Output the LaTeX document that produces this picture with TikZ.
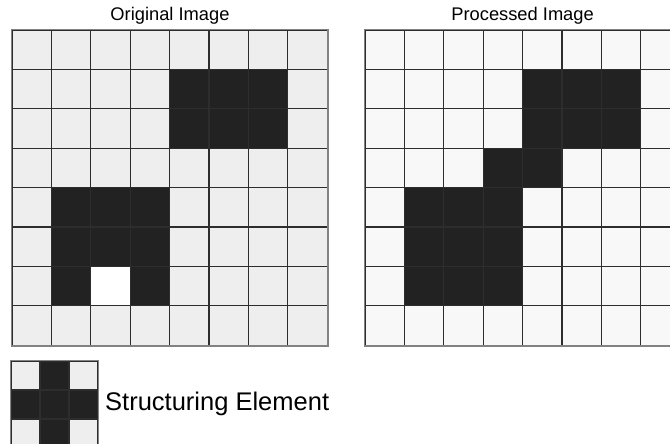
\documentclass[tikz,border=0pt]{standalone}
\usepackage{fontspec}
\setmainfont{Liberation Sans}
\usetikzlibrary{positioning}
\definecolor{origcol}{RGB}{238,238,238}
\definecolor{proccol}{RGB}{248,248,248}
\definecolor{inkcol}{RGB}{34,34,34}
\definecolor{linecol}{RGB}{45,45,45}
\definecolor{framecol}{RGB}{130,130,130}

\begin{document}
\begin{tikzpicture}[x=1pt,y=-1pt,
  cell/.style={draw=linecol,line width=1.3pt,minimum size=39.4pt,inner sep=0pt,anchor=center},
  secell/.style={draw=linecol,line width=1.3pt,minimum size=29pt,inner sep=0pt,anchor=center},
  title/.style={font=\fontsize{18.3}{22}\selectfont,text=black}]
  \clip (0,0) rectangle (670,444);
  \useasboundingbox (0,0) rectangle (670,444);
  \fill[white] (0,0) rectangle (670,444);
  \begin{scope}
    % original image, 8x8
    \foreach \c in {0,...,7}\foreach \r in {0,...,7}
       {\node[cell,fill=origcol] (o-\c-\r) at ({31.7+39.4*\c},{49.7+39.4*\r}) {};}
    \foreach \c/\r in {4/1,5/1,6/1,4/2,5/2,6/2,1/4,2/4,3/4,1/5,2/5,3/5,1/6,3/6}
       {\node[cell,fill=inkcol] (od-\c-\r) at (o-\c-\r) {};}
    \node[cell,fill=white] (oh-2-6) at (o-2-6) {};
    \draw[framecol,line width=1.6pt] (o-0-0.north west) rectangle (o-7-7.south east);
    \node[title] (otitle) at (170,16) {Original Image};
  \end{scope}
  \begin{scope}
    % processed image, cut off at the right edge
    \foreach \c in {0,...,7}\foreach \r in {0,...,7}
       {\node[cell,fill=proccol] (p-\c-\r) at ({384.7+39.4*\c},{49.7+39.4*\r}) {};}
    \foreach \c/\r in {4/1,5/1,6/1,4/2,5/2,6/2,3/3,4/3,1/4,2/4,3/4,1/5,2/5,3/5,1/6,2/6,3/6}
       {\node[cell,fill=inkcol] (pd-\c-\r) at (p-\c-\r) {};}
    \draw[framecol,line width=1.6pt] (p-0-0.north west) rectangle (p-7-7.south east);
    \node[title] (ptitle) at (522.6,16) {Processed Image};
  \end{scope}
  \begin{scope}
    % structuring element, 3x3 cross
    \foreach \c in {0,1,2}\foreach \r in {0,1,2}
       {\node[secell,fill=origcol] (s-\c-\r) at ({25.5+29*\c},{375.5+29*\r}) {};}
    \foreach \c/\r in {1/0,0/1,1/1,2/1,1/2}
       {\node[secell,fill=inkcol] (sd-\c-\r) at (s-\c-\r) {};}
    \draw[framecol,line width=1.6pt] (s-0-0.north west) rectangle (s-2-2.south east);
    \node[font=\fontsize{25.5}{30}\selectfont,anchor=west,inner sep=0pt] (selabel) at (105,404) {Structuring Element};
  \end{scope}
\end{tikzpicture}
\end{document}
